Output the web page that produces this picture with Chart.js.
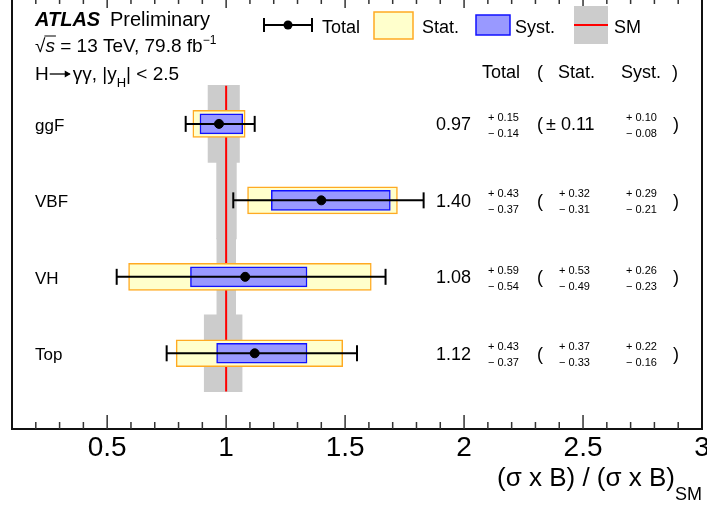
<!DOCTYPE html>
<html><head><meta charset="utf-8">
<script src="https://cdn.jsdelivr.net/npm/chart.js@4/dist/chart.umd.min.js"></script>
<style>html,body{margin:0;padding:0;background:#fff;overflow:hidden}canvas{display:block}</style>
</head><body><canvas id="c" width="707" height="508"></canvas>
<script>
// ---- data ----
const categories = ['ggF', 'VBF', 'VH', 'Top'];
const rowPositions = [4, 3, 2, 1];
const central = [0.97, 1.40, 1.08, 1.12];
const totalUp = [0.15, 0.43, 0.59, 0.43];
const totalDn = [0.14, 0.37, 0.54, 0.37];
const statUp = [0.11, 0.32, 0.53, 0.37];
const statDn = [0.11, 0.31, 0.49, 0.33];
const systUp = [0.10, 0.29, 0.26, 0.22];
const systDn = [0.08, 0.21, 0.23, 0.16];
const smUp = [0.056, 0.043, 0.040, 0.067];
const smDn = [0.076, 0.040, 0.039, 0.092];
const smValue = 1;
const xTickValues = [0.5, 1, 1.5, 2, 2.5, 3];
const xTickLabels = ['0.5', '1', '1.5', '2', '2.5', '3'];
const xMin = 0.1, xMax = 3.0;

const F = '"Liberation Sans", Arial, Helvetica, sans-serif';

const datasets = [];
datasets.push({
  type: 'bar', indexAxis: 'y', label: 'SM',
  data: rowPositions.map((r, i) => ({ x: [smValue - smDn[i], smValue + smUp[i]], y: r })),
  backgroundColor: '#cccccc', borderWidth: 0, barThickness: 77, grouped: false, order: 6
});
datasets.push({
  type: 'line', label: 'SMline',
  data: [{ x: smValue, y: Math.min(...rowPositions) - 0.5 }, { x: smValue, y: Math.max(...rowPositions) + 0.5 }],
  borderColor: '#ff0000', borderWidth: 2, pointRadius: 0, order: 5
});
datasets.push({
  type: 'bar', indexAxis: 'y', label: 'Stat.',
  data: rowPositions.map((r, i) => ({ x: [central[i] - statDn[i], central[i] + statUp[i]], y: r })),
  backgroundColor: '#ffffcc', borderColor: '#ffaa22', borderWidth: 1.5, borderSkipped: false,
  barThickness: 27, grouped: false, order: 4
});
datasets.push({
  type: 'bar', indexAxis: 'y', label: 'Syst.',
  data: rowPositions.map((r, i) => ({ x: [central[i] - systDn[i], central[i] + systUp[i]], y: r })),
  backgroundColor: '#9999ff', borderColor: '#1010ff', borderWidth: 1.5, borderSkipped: false,
  barThickness: 20, grouped: false, order: 3
});
rowPositions.forEach((r, i) => {
  datasets.push({
    type: 'line', label: 'Total',
    data: [{ x: central[i] - totalDn[i], y: r }, { x: central[i] + totalUp[i], y: r }],
    borderColor: '#000', borderWidth: 2, pointStyle: 'line', pointRotation: 90, pointRadius: 8,
    pointBorderWidth: 2, pointBorderColor: '#000', order: 2
  });
});
datasets.push({
  type: 'scatter', label: 'central',
  data: rowPositions.map((r, i) => ({ x: central[i], y: r })),
  backgroundColor: '#000', borderColor: '#000', pointRadius: 4.5, order: 1
});

function drawSubSup(ctx, x, yMid, up, dn) {
  ctx.font = '11px ' + F;
  ctx.textAlign = 'left';
  ctx.textBaseline = 'middle';
  ctx.fillText('+ ' + up.toFixed(2), x, yMid - 6);
  ctx.fillText('\u2212 ' + dn.toFixed(2), x, yMid + 10);
}

const deco = {
  id: 'deco',
  afterDraw(chart) {
    const ctx = chart.ctx, xs = chart.scales.x, ys = chart.scales.y, ca = chart.chartArea;
    ctx.save();
    ctx.fillStyle = '#000';
    // frame
    ctx.strokeStyle = '#111'; ctx.lineWidth = 2;
    ctx.beginPath();
    ctx.moveTo(ca.left, 0); ctx.lineTo(ca.left, ca.bottom); ctx.lineTo(ca.right, ca.bottom); ctx.lineTo(ca.right, 0);
    ctx.stroke();
    // ticks
    ctx.strokeStyle = '#333'; ctx.lineWidth = 1.5;
    for (let k = Math.round(xMin * 10) + 1; k < Math.round(xMax * 10); k++) {
      const v = k / 10, px = xs.getPixelForValue(v), major = (k % 5 === 0);
      ctx.beginPath();
      ctx.moveTo(px, ca.bottom); ctx.lineTo(px, ca.bottom - (major ? 14 : 7));
      ctx.moveTo(px, ca.top); ctx.lineTo(px, ca.top + (major ? 8 : 4));
      ctx.stroke();
    }
    // tick labels
    ctx.font = '28px ' + F; ctx.textAlign = 'center'; ctx.textBaseline = 'alphabetic';
    xTickValues.forEach((v, i) => ctx.fillText(xTickLabels[i], xs.getPixelForValue(v), 456));
    // axis title
    ctx.textAlign = 'right';
    ctx.font = '18px ' + F;
    const wSM = ctx.measureText('SM').width;
    ctx.fillText('SM', ca.right, 500);
    ctx.font = '26px ' + F;
    ctx.fillText('(\u03c3 x B) / (\u03c3 x B)', ca.right - wSM, 486);

    // ATLAS label
    ctx.textAlign = 'left';
    ctx.font = 'italic bold 20px ' + F;
    ctx.fillText('ATLAS', 35, 26);
    ctx.font = '20px ' + F;
    ctx.fillText('Preliminary', 110, 26);
    // line 2
    let x = 35;
    ctx.font = '19px ' + F;
    ctx.fillText('\u221a', x, 52); x += ctx.measureText('\u221a').width;
    ctx.font = 'italic 19px ' + F;
    const ws = ctx.measureText('s').width;
    ctx.fillText('s', x, 52);
    ctx.lineWidth = 1; ctx.strokeStyle = '#000';
    ctx.beginPath(); ctx.moveTo(x - 1, 36); ctx.lineTo(x + ws + 1, 36); ctx.stroke();
    x += ws;
    ctx.font = '19px ' + F;
    const t2 = ' = 13 TeV, 79.8 fb';
    ctx.fillText(t2, x, 52); x += ctx.measureText(t2).width;
    ctx.font = '12px ' + F;
    ctx.fillText('\u22121', x, 44);
    // line 3
    x = 35;
    ctx.font = '19px ' + F;
    ctx.fillText('H', x, 80); x += ctx.measureText('H').width + 1;
    // long arrow
    const ay = 74;
    ctx.lineWidth = 1.3; ctx.strokeStyle = '#000';
    ctx.beginPath(); ctx.moveTo(x, ay); ctx.lineTo(x + 20, ay); ctx.stroke();
    ctx.beginPath(); ctx.moveTo(x + 21, ay); ctx.lineTo(x + 15, ay - 3.5); ctx.lineTo(x + 15, ay + 3.5); ctx.closePath(); ctx.fill();
    x += 23;
    const t3 = '\u03b3\u03b3, |y';
    ctx.fillText(t3, x, 80); x += ctx.measureText(t3).width;
    ctx.font = '13px ' + F;
    ctx.fillText('H', x, 87); x += ctx.measureText('H').width;
    ctx.font = '19px ' + F;
    ctx.fillText('| < 2.5', x, 80);

    // legend
    ctx.strokeStyle = '#000'; ctx.lineWidth = 2;
    ctx.beginPath();
    ctx.moveTo(264, 25); ctx.lineTo(312, 25);
    ctx.moveTo(264, 18); ctx.lineTo(264, 32);
    ctx.moveTo(312, 18); ctx.lineTo(312, 32);
    ctx.stroke();
    ctx.beginPath(); ctx.arc(288, 25, 4.5, 0, Math.PI * 2); ctx.fill();
    ctx.fillStyle = '#ffffcc'; ctx.fillRect(374, 12, 39, 27);
    ctx.strokeStyle = '#ffaa22'; ctx.lineWidth = 1.5; ctx.strokeRect(374, 12, 39, 27);
    ctx.fillStyle = '#9999ff'; ctx.fillRect(476, 15, 34, 20);
    ctx.strokeStyle = '#1010ff'; ctx.strokeRect(476, 15, 34, 20);
    ctx.fillStyle = '#cccccc'; ctx.fillRect(574, 6, 34, 38);
    ctx.strokeStyle = '#ff0000'; ctx.lineWidth = 2;
    ctx.beginPath(); ctx.moveTo(574, 25); ctx.lineTo(608, 25); ctx.stroke();
    ctx.fillStyle = '#000';
    ctx.font = '18px ' + F;
    ctx.fillText('Total', 322, 33);
    ctx.fillText('Stat.', 422, 33);
    ctx.fillText('Syst.', 515, 33);
    ctx.fillText('SM', 614, 33);

    // header
    ctx.fillText('Total', 482, 78);
    ctx.fillText('(', 537, 78);
    ctx.fillText('Stat.', 558, 78);
    ctx.fillText('Syst.', 621, 78);
    ctx.fillText(')', 672, 78);

    // rows
    rowPositions.forEach((r, i) => {
      const yc = ys.getPixelForValue(r);
      ctx.font = '17px ' + F; ctx.textAlign = 'left'; ctx.textBaseline = 'middle';
      ctx.fillText(categories[i], 35, yc + 2);
      ctx.font = '18px ' + F; ctx.textAlign = 'right';
      ctx.fillText(central[i].toFixed(2), 471, yc + 1.5);
      drawSubSup(ctx, 488, yc, totalUp[i], totalDn[i]);
      ctx.font = '18px ' + F; ctx.textAlign = 'left'; ctx.textBaseline = 'middle';
      ctx.fillText('(', 537, yc + 1.5);
      if (statUp[i] === statDn[i]) {
        ctx.fillText('\u00b1 ' + statUp[i].toFixed(2), 546, yc + 1.5);
      } else {
        drawSubSup(ctx, 559, yc, statUp[i], statDn[i]);
      }
      drawSubSup(ctx, 626, yc, systUp[i], systDn[i]);
      ctx.font = '18px ' + F; ctx.textAlign = 'left'; ctx.textBaseline = 'middle';
      ctx.fillText(')', 673, yc + 1.5);
    });
    ctx.restore();
  }
};

new Chart(document.getElementById('c'), {
  type: 'scatter',
  data: { datasets },
  options: {
    responsive: false, animation: false, events: [],
    layout: { autoPadding: false, padding: { left: 12, right: 5, top: 0, bottom: 79 } },
    plugins: { legend: { display: false }, tooltip: { enabled: false } },
    scales: {
      x: { type: 'linear', min: xMin, max: xMax, display: false, offset: false },
      y: { type: 'linear', min: 0.01, max: 5.62, display: false, offset: false }
    }
  },
  plugins: [deco]
});
</script>
</body></html>
